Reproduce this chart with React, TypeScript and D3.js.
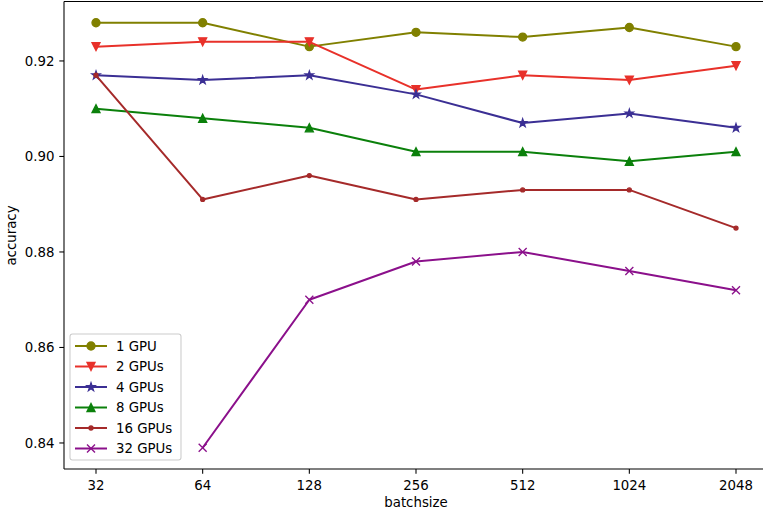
import * as d3 from "d3";

const batchSizes = ["32", "64", "128", "256", "512", "1024", "2048"];
const yTicks = [0.84, 0.86, 0.88, 0.9, 0.92];

const gpu1 = [0.928, 0.928, 0.923, 0.926, 0.925, 0.927, 0.923];
const gpu2 = [0.923, 0.924, 0.924, 0.914, 0.917, 0.916, 0.919];
const gpu4 = [0.917, 0.916, 0.917, 0.913, 0.907, 0.909, 0.906];
const gpu8 = [0.91, 0.908, 0.906, 0.901, 0.901, 0.899, 0.901];
const gpu16 = [0.917, 0.891, 0.896, 0.891, 0.893, 0.893, 0.885];
const gpu32 = [null, 0.839, 0.87, 0.878, 0.88, 0.876, 0.872];

const seriesNames = ["1 GPU", "2 GPUs", "4 GPUs", "8 GPUs", "16 GPUs", "32 GPUs"];
const seriesColors = ["#808000", "#e8312a", "#3b2f94", "#0b800b", "#a52a2a", "#8b108b"];
const seriesMarkers = ["o", "v", "*", "^", ".", "x"];
const seriesValues = [gpu1, gpu2, gpu4, gpu8, gpu16, gpu32];

const W = 763;
const H = 513;
const FONT = "DejaVu Sans, sans-serif";

const x = d3.scaleLinear().domain([-0.3, 6.3]).range([64, 768]);
const y = d3.scaleLinear().domain([0.83455, 0.93245]).range([469, 1.5]);

// marker shapes, matplotlib-ish, markersize 6pt = 8px
const star = (() => {
  const pts: string[] = [];
  for (let i = 0; i < 10; i++) {
    const r = i % 2 === 0 ? 4.2 : 4.2 * 0.381966;
    const a = (Math.PI / 5) * i - Math.PI / 2;
    pts.push(`${(r * Math.cos(a)).toFixed(2)},${(r * Math.sin(a)).toFixed(2)}`);
  }
  return "M" + pts.join("L") + "Z";
})();

function Marker({ kind, color }: { kind: string; color: string }) {
  if (kind === "o") return <circle r={4} fill={color} stroke={color} strokeWidth={1.33} />;
  if (kind === ".") return <circle r={2} fill={color} stroke={color} strokeWidth={1.33} />;
  if (kind === "v") return <path d="M-4,-4L4,-4L0,4Z" fill={color} stroke={color} strokeWidth={1.33} strokeLinejoin="miter" />;
  if (kind === "^") return <path d="M-4,4L4,4L0,-4Z" fill={color} stroke={color} strokeWidth={1.33} strokeLinejoin="miter" />;
  if (kind === "*") return <path d={star} fill={color} stroke={color} strokeWidth={1.33} />;
  return <path d="M-4,-4L4,4M-4,4L4,-4" fill="none" stroke={color} strokeWidth={1.33} />;
}

export default function App() {
  const line = d3
    .line<number | null>()
    .defined((d) => d !== null)
    .x((_, i) => x(i))
    .y((d) => y(d as number));

  const legendY0 = 346;
  const legendStep = 20.5;

  return (
    <svg
      width={W}
      height={H}
      style={{ position: "absolute", left: 0, top: 0, background: "#fff" }}
      fontFamily={FONT}
    >
      <rect x={0} y={0} width={W} height={H} fill="#fff" />

      {/* lines + markers */}
      {seriesValues.map((vals, s) => (
        <g key={seriesNames[s]}>
          <path d={line(vals) || ""} fill="none" stroke={seriesColors[s]} strokeWidth={2} strokeLinejoin="round" />
          {vals.map((v, i) =>
            v === null ? null : (
              <g key={i} transform={`translate(${x(i)},${y(v)})`}>
                <Marker kind={seriesMarkers[s]} color={seriesColors[s]} />
              </g>
            )
          )}
        </g>
      ))}

      {/* spines */}
      <g stroke="#000" strokeWidth={1.07} fill="none">
        <line x1={64} y1={1.5} x2={64} y2={469} />
        <line x1={64} y1={469} x2={768} y2={469} />
        <line x1={64} y1={1.5} x2={768} y2={1.5} />
      </g>

      {/* x ticks */}
      {batchSizes.map((b, i) => (
        <g key={b} transform={`translate(${x(i)},469)`}>
          <line y2={4.7} stroke="#000" strokeWidth={1.07} />
          <text y={20.5} textAnchor="middle" fontSize={13.33} fill="#000">
            {b}
          </text>
        </g>
      ))}

      {/* y ticks */}
      {yTicks.map((t) => (
        <g key={t} transform={`translate(64,${y(t)})`}>
          <line x2={-4.7} stroke="#000" strokeWidth={1.07} />
          <text x={-9.5} dy="0.35em" textAnchor="end" fontSize={13.33} fill="#000">
            {d3.format(".2f")(t)}
          </text>
        </g>
      ))}

      <text x={416} y={507} textAnchor="middle" fontSize={13.33} fill="#000">
        batchsize
      </text>
      <text transform={`translate(16,235.5) rotate(-90)`} textAnchor="middle" fontSize={13.33} fill="#000">
        accuracy
      </text>

      {/* legend */}
      <rect x={70} y={334} width={111} height={126} rx={2.5} fill="#fff" fillOpacity={0.8} stroke="#cccccc" strokeWidth={1.07} />
      {seriesNames.map((n, s) => (
        <g key={n} transform={`translate(0,${legendY0 + s * legendStep})`}>
          <line x1={75} x2={107} stroke={seriesColors[s]} strokeWidth={2} />
          <g transform="translate(91,0)">
            <Marker kind={seriesMarkers[s]} color={seriesColors[s]} />
          </g>
          <text x={116} dy="0.35em" fontSize={13.33} fill="#000">
            {n}
          </text>
        </g>
      ))}
    </svg>
  );
}
